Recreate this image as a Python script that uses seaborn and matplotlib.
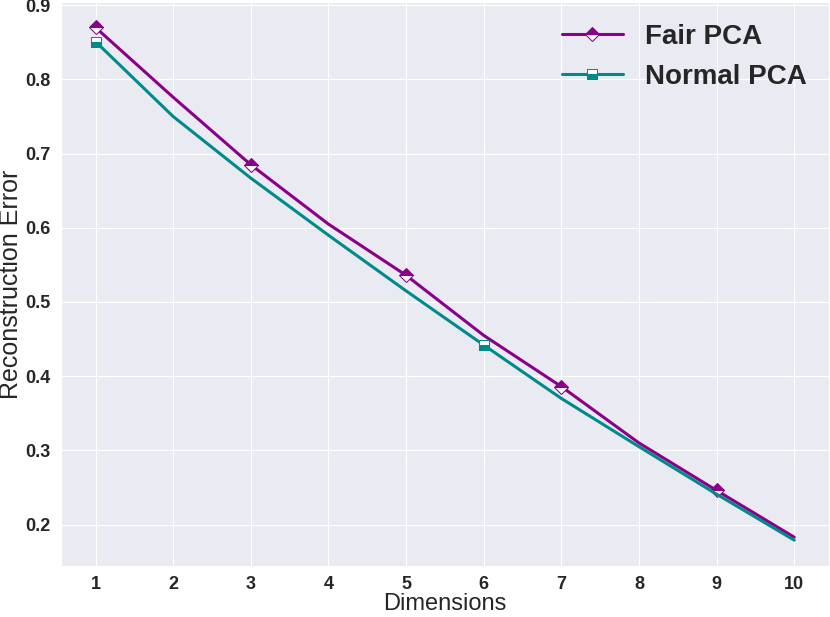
import matplotlib
matplotlib.use("Agg")
import matplotlib.pyplot as plt
import seaborn as sns
import pandas as pd

# data
dimensions = [1, 2, 3, 4, 5, 6, 7, 8, 9, 10]
fair_pca = [0.870, 0.776, 0.685, 0.605, 0.536, 0.455, 0.386, 0.310, 0.246, 0.183]
normal_pca = [0.851, 0.750, 0.667, 0.590, 0.515, 0.442, 0.370, 0.305, 0.241, 0.179]

df = pd.DataFrame({"Dimensions": dimensions, "Fair PCA": fair_pca, "Normal PCA": normal_pca})

sns.set_style("darkgrid")
plt.rcParams['font.family'] = ['Liberation Sans', 'DejaVu Sans']

fig, ax = plt.subplots(figsize=(8.3, 6.17), dpi=100)
fig.subplots_adjust(left=0.073, right=0.999, top=0.997, bottom=0.083)

sns.lineplot(data=df, x="Dimensions", y="Fair PCA", ax=ax, color="#8B008B", linewidth=2.2,
             marker="D", markersize=7.5, fillstyle="top", markerfacecoloralt="white",
             markeredgecolor="#8B008B", markevery=2, label="Fair PCA")
sns.lineplot(data=df, x="Dimensions", y="Normal PCA", ax=ax, color="#008B8B", linewidth=2.2,
             marker="s", markersize=7.5, fillstyle="bottom", markerfacecoloralt="white",
             markeredgecolor="#008B8B", markevery=5, label="Normal PCA")

ax.set_xticks(dimensions)
ax.set_xlabel("Dimensions", fontsize=17, labelpad=0)
ax.set_ylabel("Reconstruction Error", fontsize=18, labelpad=2)
for lab in ax.get_xticklabels() + ax.get_yticklabels():
    lab.set_fontweight("bold")
    lab.set_fontsize(13)

leg = ax.legend(loc="upper right", frameon=False, prop={"weight": "bold", "size": 20},
                handlelength=2.2, borderaxespad=0.4)

plt.savefig("out.png", dpi=100)
plt.close()
